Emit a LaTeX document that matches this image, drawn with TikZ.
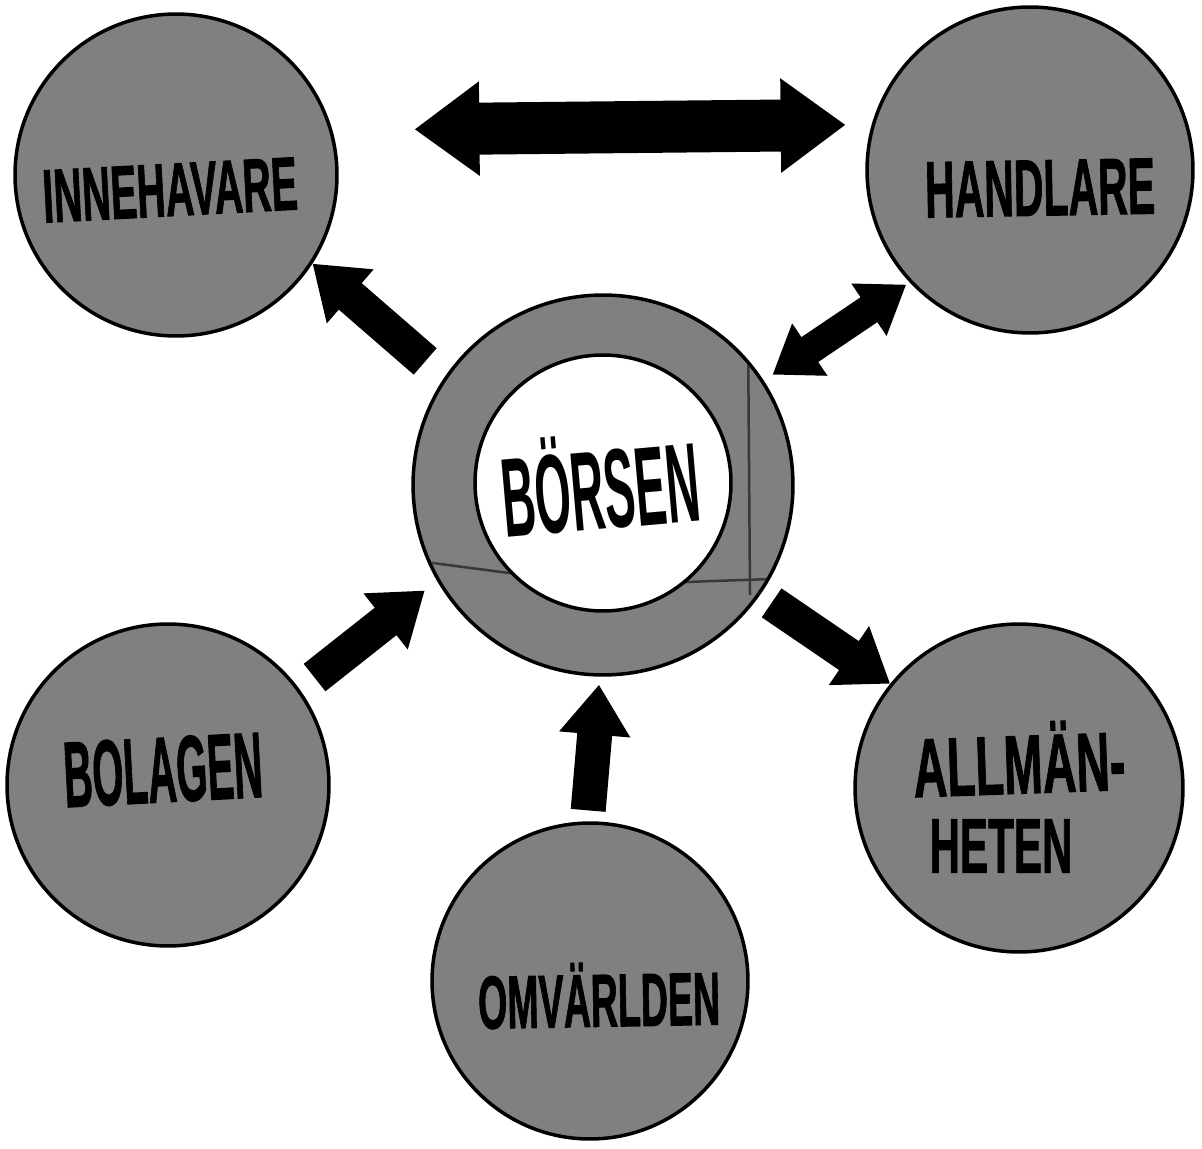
\documentclass[tikz,border=0pt]{standalone}
\usepackage{fontspec}
\setmainfont{Liberation Sans}
\newfontfamily\heavy{Liberation Sans}[UprightFont={* Bold}, FakeBold=1.5]
\usetikzlibrary{arrows.meta}
\definecolor{screen}{gray}{0.5}
\definecolor{seam}{gray}{0.22}
\tikzset{
  bubble/.style={circle, draw=black, line width=0.07cm, fill=screen, inner sep=0pt},
  hole/.style={circle, draw=black, line width=0.07cm, fill=white, inner sep=0pt},
  word/.style={inner sep=0pt, text=black, font=\heavy},
  pen/.style={inner sep=0pt, text=black, font=\bfseries},
  bigtip/.tip={Triangle[length=1.3cm, width=1.8cm]},
  midtip/.tip={Triangle[length=1.0cm, width=1.36cm]},
  smalltip/.tip={Triangle[length=0.9cm, width=1.2cm]},
  wide arrow/.style={draw=black, line width=1.04cm, bigtip-bigtip},
  one arrow/.style={draw=black, line width=0.7cm, -midtip},
  two arrow/.style={draw=black, line width=0.6cm, smalltip-smalltip},
}
\begin{document}
\begin{tikzpicture}[x=0.02cm, y=-0.02cm]
\useasboundingbox (0,0) rectangle (1202,1148);
\fill[white] (0,0) rectangle (1202,1148);

% outer circles
\node[bubble, minimum size=6.44cm] (inn) at (176,175) {};
\node[bubble, minimum size=6.52cm] (han) at (1030,170) {};
\node[bubble, minimum size=6.44cm] (bol) at (168,785) {};
\node[bubble, minimum size=6.56cm] (all) at (1019,788) {};
\node[bubble, minimum size=6.32cm] (omv) at (590,981) {};

% central ring, with the seams of the pasted-on paper
\node[bubble, minimum size=7.6cm] (bor) at (603,485) {};
\begin{scope}
  \clip (603,485) circle (188);
  \draw[seam, line width=0.05cm] (748,330) -- (750,595);
  \draw[seam, line width=0.05cm] (410,560) -- (600,585) -- (800,578);
\end{scope}
\node[hole, minimum size=5.12cm] (borin) at (603,483) {};

% arrows
\draw[wide arrow, shorten <=1.64cm, shorten >=0.52cm] (inn.16) -- (han.164);
\draw[one arrow, shorten <=0.5cm] (bor.146) -- (inn.-33);
\draw[two arrow, shorten <=0.21cm, shorten >=0.08cm] (bor.33) -- (han.223);
\draw[one arrow, shorten <=0.38cm, shorten >=0.31cm] (bol.36) -- (bor.210);
\draw[one arrow, shorten <=0.28cm] (bor.-35) -- (all.141);
\draw[one arrow, shorten <=0.22cm, shorten >=0.16cm] (omv.91) -- (bor.269);

% labels
\node[word, rotate=3] (tinn) at (170,190) {\resizebox{5.1cm}{1.04cm}{INNEHAVARE}};
\node[word, rotate=1] (than) at (1040,188) {\resizebox{4.6cm}{1.1cm}{HANDLARE}};
\node[pen, rotate=5] (tbor) at (600,482) {\resizebox{3.96cm}{1.92cm}{BÖRSEN}};
\node[word, rotate=3] (tbol) at (163,770) {\resizebox{3.98cm}{1.3cm}{BOLAGEN}};
\node[word, rotate=2] (tall) at (1019,758) {\resizebox{4.24cm}{1.42cm}{ALLMÄN-}};
\node[word] (thet) at (1001,846) {\resizebox{2.86cm}{1.06cm}{HETEN}};
\node[word, rotate=1] (tomv) at (599,995) {\resizebox{4.84cm}{1.28cm}{OMVÄRLDEN}};
\end{tikzpicture}
\end{document}
